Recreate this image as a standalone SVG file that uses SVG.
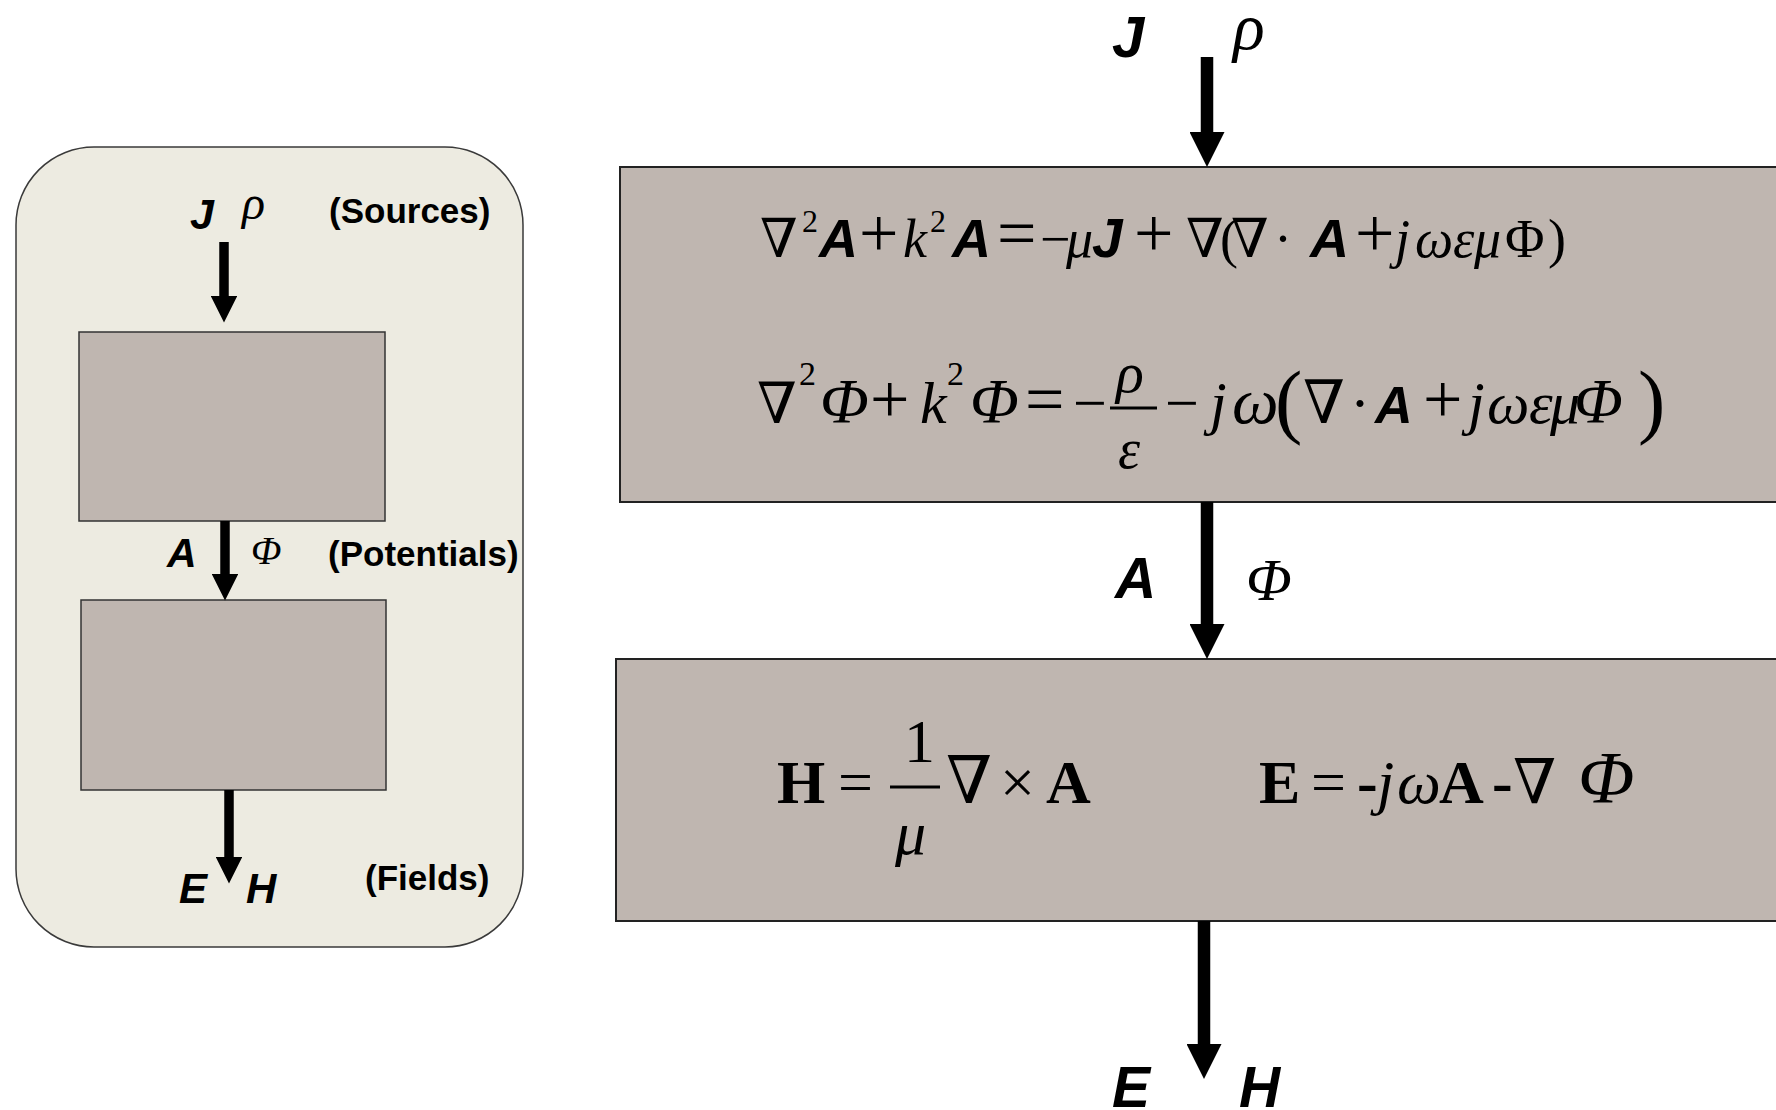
<svg xmlns="http://www.w3.org/2000/svg" width="1776" height="1110" viewBox="0 0 1776 1110">
<defs>
<style>
.bg{fill:#ffffff}
.panel{fill:#EDEBE1;stroke:#3a3a3a;stroke-width:1.5}
.box{fill:#BFB6B0;stroke:#333333;stroke-width:1.5}
.bigbox{fill:#BFB6B0;stroke:#222222;stroke-width:2}
.arr{stroke:#000;fill:none;marker-end:url(#head)}
.sb{font-family:"Liberation Sans",Arial,sans-serif;font-weight:bold;fill:#000}
.sbi{font-family:"Liberation Sans",Arial,sans-serif;font-weight:bold;font-style:italic;fill:#000}
.se{font-family:"Liberation Serif","DejaVu Serif",serif;fill:#000}
.i{font-style:italic}
.b{font-weight:bold}
.op{font-size:70px}
.bar{stroke:#000;stroke-width:3}
</style>
<marker id="head" viewBox="0 0 2.8 2.8" markerWidth="2.8" markerHeight="2.8" refX="0" refY="1.4" orient="auto" markerUnits="strokeWidth">
<path d="M0,0 L2.8,1.4 L0,2.8 z" fill="#000"/>
</marker>
</defs>
<rect class="bg" x="0" y="0" width="1776" height="1110"/>

<g id="overview">
<rect class="panel" x="16" y="147" width="507" height="800" rx="78" ry="78"/>
</g>
<g id="small-box-potentials">
<rect class="box" x="79" y="332" width="306" height="189"/>
</g>
<g id="small-box-fields">
<rect class="box" x="81" y="600" width="305" height="190"/>
</g>
<g id="small-labels">
<text class="sbi" x="190" y="229" font-size="43">J</text>
<text class="se i" x="242" y="219" font-size="48">ρ</text>
<text class="sb" x="329" y="223" font-size="35">(Sources)</text>
<text class="sbi" x="167" y="567" font-size="41">A</text>
<text class="se i" x="251" y="564" font-size="40">Φ</text>
<text class="sb" x="328" y="566" font-size="35">(Potentials)</text>
<text class="sbi" x="179" y="903" font-size="42">E</text>
<text class="sbi" x="246" y="903" font-size="42">H</text>
<text class="sb" x="365" y="890" font-size="35">(Fields)</text>
</g>

<g id="potential-equations">
<rect class="bigbox" x="620" y="167" width="1170" height="335"/>
<text class="se" y="257" font-size="54">
<tspan x="760">∇</tspan><tspan x="802" y="232" font-size="32">2</tspan><tspan class="sbi" x="819" y="257" font-size="54">A</tspan><tspan class="op" x="859">+</tspan><tspan class="i" x="903">k</tspan><tspan x="930" y="232" font-size="32">2</tspan><tspan class="sbi" x="952" y="257" font-size="54">A</tspan><tspan class="op" x="997">=</tspan><tspan x="1040">−</tspan><tspan class="i" x="1066">μ</tspan><tspan class="sbi" x="1092" font-size="55">J</tspan><tspan class="op" x="1134">+</tspan><tspan x="1186">∇</tspan><tspan x="1220">(</tspan><tspan x="1231">∇</tspan><tspan x="1274">·</tspan><tspan class="sbi" x="1310" font-size="54">A</tspan><tspan class="op" x="1355">+</tspan><tspan class="i" x="1395">j</tspan><tspan class="i" x="1415">ω</tspan><tspan class="i" x="1453">ε</tspan><tspan class="i" x="1474">μ</tspan><tspan x="1505">Φ</tspan><tspan x="1548">)</tspan>
</text>
<text class="se" y="423" font-size="60">
<tspan x="757" font-size="57">∇</tspan><tspan x="799" y="385" font-size="34">2</tspan><tspan class="i" x="820" y="423" font-size="64">Φ</tspan><tspan class="op" x="870">+</tspan><tspan class="i" x="920">k</tspan><tspan x="947" y="385" font-size="34">2</tspan><tspan class="i" x="970" y="423" font-size="64">Φ</tspan><tspan class="op" x="1025">=</tspan><tspan x="1073">−</tspan><tspan x="1165">−</tspan><tspan class="i" x="1210">j</tspan><tspan class="i" x="1232" font-size="66">ω</tspan><tspan x="1303">∇</tspan><tspan x="1350">·</tspan><tspan class="sbi" x="1375" font-size="52">A</tspan><tspan class="op" x="1423">+</tspan><tspan class="i" x="1468">j</tspan><tspan class="i" x="1487">ω</tspan><tspan class="i" x="1529">ε</tspan><tspan class="i" x="1550">μ</tspan><tspan class="i" x="1574" font-size="64">Φ</tspan>
</text>
<text class="se i" x="1116" y="392" font-size="58">ρ</text>
<line class="bar" x1="1110" y1="408" x2="1157" y2="408"/>
<text class="se i" x="1118" y="468" font-size="56">ε</text>
<text class="se" x="1275" y="428" font-size="82">(</text>
<text class="se" x="1638" y="428" font-size="82">)</text>
</g>

<g id="field-equations">
<rect class="bigbox" x="616" y="659" width="1174" height="262"/>
<text class="se" y="803" font-size="62">
<tspan class="b" x="777">H</tspan><tspan x="838">=</tspan><tspan x="946" font-size="66">∇</tspan><tspan x="1000">×</tspan><tspan class="b" x="1046">A</tspan>
</text>
<text class="se" x="904" y="762" font-size="62">1</text>
<line class="bar" x1="890" y1="787" x2="940" y2="787"/>
<text class="se i" x="895" y="854" font-size="62">μ</text>
<text class="se" y="803" font-size="62">
<tspan class="b" x="1259">E</tspan><tspan x="1311">=</tspan><tspan class="b" x="1357">-</tspan><tspan class="i" x="1377">j</tspan><tspan class="i" x="1397">ω</tspan><tspan class="b" x="1439">A</tspan><tspan class="b" x="1492">-</tspan><tspan x="1513">∇</tspan><tspan class="i" x="1578" font-size="74">Φ</tspan>
</text>
</g>

<g id="main-labels">
<text class="sbi" x="1112" y="57" font-size="58">J</text>
<text class="se i" x="1233" y="49" font-size="66">ρ</text>
<text class="sbi" x="1115" y="598" font-size="57">A</text>
<text class="se i" x="1246" y="600" font-size="60">Φ</text>
<text class="sbi" x="1112" y="1107" font-size="57">E</text>
<text class="sbi" x="1239" y="1107" font-size="57">H</text>
</g>

<g id="connectors">
<line class="arr" x1="224" y1="242" x2="224" y2="296" stroke-width="9.5"/>
<line class="arr" x1="225" y1="521" x2="225" y2="574" stroke-width="9.5"/>
<line class="arr" x1="229" y1="790" x2="229" y2="857" stroke-width="9.5"/>
<line class="arr" x1="1207" y1="57" x2="1207" y2="132" stroke-width="12.5"/>
<line class="arr" x1="1207" y1="502" x2="1207" y2="624" stroke-width="12.5"/>
<line class="arr" x1="1204" y1="921" x2="1204" y2="1044" stroke-width="12.5"/>
</g>
</svg>
